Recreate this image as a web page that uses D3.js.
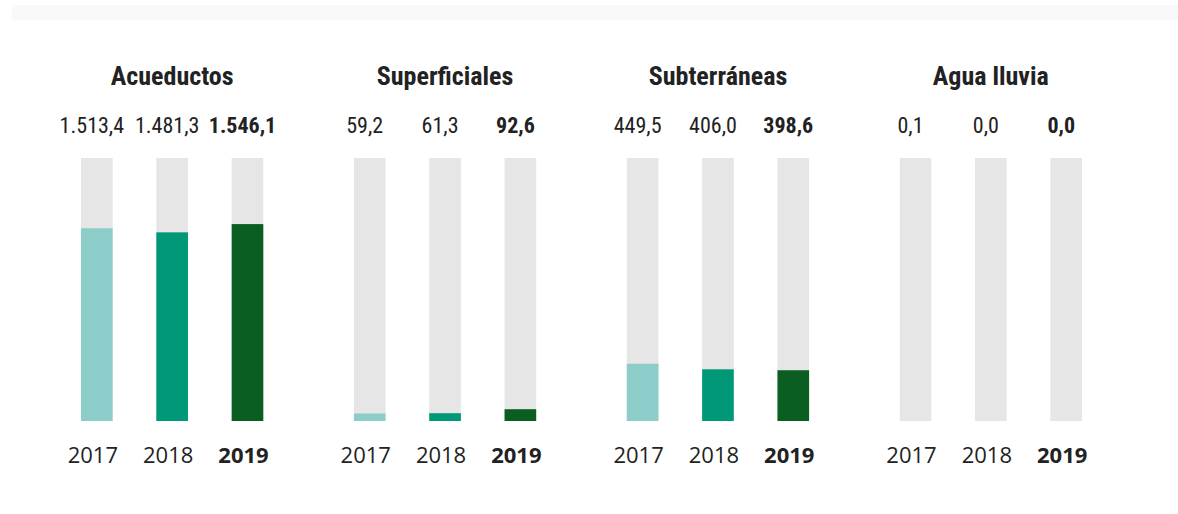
<!DOCTYPE html>
<html>
<head>
<meta charset="utf-8">
<script src="https://cdn.jsdelivr.net/npm/d3@7"></script>
<style>
  body { margin: 0; background: #fff; }
  svg text { font-family: "Roboto Condensed", "Liberation Sans Narrow", "Roboto", sans-serif; fill: #222; }
  svg text.year { font-family: "Open Sans", "Roboto", sans-serif; }
</style>
</head>
<body>
<svg id="chart"></svg>
<script>
// Fuentes de agua (valores por año)
const categories = ['Acueductos', 'Superficiales', 'Subterráneas', 'Agua lluvia'];
const years = ['2017', '2018', '2019'];
const values2017 = [1513.4, 59.2, 449.5, 0.1];
const values2018 = [1481.3, 61.3, 406.0, 0.0];
const values2019 = [1546.1, 92.6, 398.6, 0.0];
const maxValue = 2065;

const svgWidth = 1178;
const svgHeight = 514;

const svg = d3.select('#chart')
    .attr('width', svgWidth)
    .attr('height', svgHeight);

// faint page edge at top
svg.append('rect')
    .attr('x', 12)
    .attr('y', 5)
    .attr('width', svgWidth - 12)
    .attr('height', 15)
    .attr('fill', '#f9f9f9');

const colors = { '2017': '#8dcdc9', '2018': '#009876', '2019': '#0a5e22' };
const seriesByYear = { '2017': values2017, '2018': values2018, '2019': values2019 };

const barTop = 158;
const barBottom = 421;

// group scale and bar scale inside each group
const xGroup = d3.scaleBand()
    .domain(categories)
    .range([81, 1082])
    .paddingInner(0.332)
    .paddingOuter(0);

const xBar = d3.scaleBand()
    .domain(years)
    .range([0, xGroup.bandwidth()])
    .paddingInner(0.58)
    .paddingOuter(0);

const yScale = d3.scaleLinear()
    .domain([0, maxValue])
    .range([barBottom, barTop]);

const data = categories.map((c, i) => ({
    category: c,
    bars: years.map(y => ({ year: y, value: seriesByYear[y][i] }))
}));

const groups = svg.selectAll('.group')
    .data(data)
    .enter()
    .append('g')
    .attr('class', 'group')
    .attr('transform', d => `translate(${xGroup(d.category)}, 0)`);

// titles
groups.append('text')
    .attr('x', xGroup.bandwidth() / 2)
    .attr('y', 85)
    .attr('text-anchor', 'middle')
    .style('font-size', '26px')
    .style('font-weight', 'bold')
    .text(d => d.category);

const barGroups = groups.selectAll('.bar')
    .data(d => d.bars)
    .enter()
    .append('g')
    .attr('class', 'bar')
    .attr('transform', d => `translate(${xBar(d.year)}, 0)`);

// background track
barGroups.append('rect')
    .attr('x', 0)
    .attr('y', yScale(maxValue))
    .attr('width', xBar.bandwidth())
    .attr('height', yScale(0) - yScale(maxValue))
    .attr('fill', '#e6e6e6');

// value fill
barGroups.append('rect')
    .attr('x', 0)
    .attr('y', d => yScale(d.value))
    .attr('width', xBar.bandwidth())
    .attr('height', d => yScale(0) - yScale(d.value))
    .attr('fill', d => colors[d.year]);

const fmt = d3.formatLocale({ decimal: ',', thousands: '.', grouping: [3], currency: ['', ''] }).format(',.1f');

// value labels
barGroups.append('text')
    .attr('x', xBar.bandwidth() / 2 - 5)
    .attr('y', 133)
    .attr('text-anchor', 'middle')
    .style('font-size', '22px')
    .style('font-weight', d => d.year === '2019' ? 'bold' : 'normal')
    .text(d => fmt(d.value));

// year labels
barGroups.append('text')
    .attr('class', 'year')
    .attr('x', xBar.bandwidth() / 2 - 4)
    .attr('y', 463)
    .attr('text-anchor', 'middle')
    .style('font-size', '22px')
    .style('font-weight', d => d.year === '2019' ? 'bold' : 'normal')
    .text(d => d.year);
</script>
</body>
</html>
